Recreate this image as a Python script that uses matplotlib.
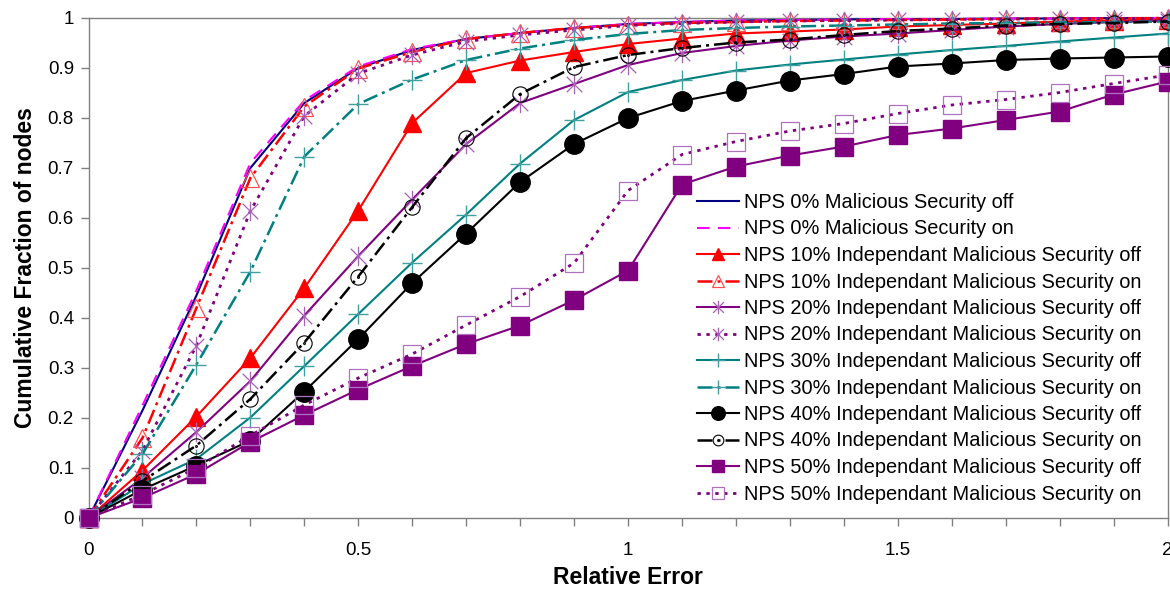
import numpy as np
import matplotlib
matplotlib.use("Agg")
import matplotlib.pyplot as plt
from matplotlib.path import Path
from matplotlib.ticker import FixedLocator, FixedFormatter

plt.rcParams["font.family"] = ["Liberation Sans", "DejaVu Sans"]

x = [0, 0.1, 0.2, 0.3, 0.4, 0.5, 0.6, 0.7, 0.8, 0.9, 1.0,
     1.1, 1.2, 1.3, 1.4, 1.5, 1.6, 1.7, 1.8, 1.9, 2.0]

nps0_off = [0, 0.215, 0.445, 0.70, 0.83, 0.90, 0.936, 0.958, 0.97, 0.98, 0.988,
            0.992, 0.995, 0.996, 0.997, 0.998, 0.998, 0.999, 0.999, 1.0, 1.0]
nps0_on = [0, 0.225, 0.455, 0.71, 0.835, 0.903, 0.938, 0.958, 0.97, 0.98, 0.988,
           0.992, 0.995, 0.996, 0.997, 0.998, 0.998, 0.999, 0.999, 1.0, 1.0]
nps10_off = [0, 0.095, 0.203, 0.32, 0.46, 0.615, 0.79, 0.89, 0.915, 0.932, 0.948,
             0.959, 0.969, 0.973, 0.977, 0.983, 0.986, 0.989, 0.993, 0.995, 0.997]
nps10_on = [0, 0.16, 0.42, 0.68, 0.823, 0.899, 0.932, 0.958, 0.97, 0.98, 0.986,
            0.99, 0.992, 0.994, 0.995, 0.996, 0.997, 0.998, 0.999, 0.999, 1.0]
nps20_off = [0, 0.08, 0.172, 0.274, 0.405, 0.524, 0.637, 0.748, 0.83, 0.868, 0.906,
             0.93, 0.944, 0.955, 0.963, 0.969, 0.976, 0.983, 0.988, 0.992, 0.995]
nps20_on = [0, 0.135, 0.345, 0.614, 0.804, 0.889, 0.926, 0.953, 0.966, 0.976, 0.985,
            0.989, 0.992, 0.994, 0.995, 0.996, 0.997, 0.998, 0.998, 0.999, 0.999]
nps30_off = [0, 0.068, 0.118, 0.201, 0.304, 0.408, 0.511, 0.607, 0.709, 0.796, 0.852,
             0.876, 0.895, 0.907, 0.917, 0.927, 0.936, 0.944, 0.953, 0.961, 0.969]
nps30_on = [0, 0.128, 0.307, 0.493, 0.723, 0.828, 0.877, 0.916, 0.939, 0.956, 0.968,
            0.976, 0.98, 0.983, 0.985, 0.987, 0.989, 0.99, 0.991, 0.992, 0.993]
nps40_off = [0, 0.057, 0.105, 0.155, 0.253, 0.358, 0.47, 0.569, 0.672, 0.748, 0.80,
             0.834, 0.855, 0.875, 0.888, 0.903, 0.909, 0.916, 0.919, 0.921, 0.923]
nps40_on = [0, 0.074, 0.145, 0.238, 0.351, 0.483, 0.622, 0.76, 0.848, 0.902, 0.926,
            0.94, 0.951, 0.957, 0.966, 0.974, 0.979, 0.985, 0.988, 0.99, 0.993]
nps50_off = [0, 0.04, 0.088, 0.152, 0.206, 0.257, 0.304, 0.348, 0.385, 0.436, 0.495,
             0.667, 0.703, 0.725, 0.743, 0.766, 0.779, 0.796, 0.813, 0.847, 0.873]
nps50_on = [0, 0.047, 0.1, 0.165, 0.226, 0.28, 0.328, 0.386, 0.443, 0.51, 0.655,
            0.727, 0.753, 0.774, 0.789, 0.809, 0.826, 0.837, 0.851, 0.869, 0.886]

labels = [
    "NPS 0% Malicious Security off",
    "NPS 0% Malicious Security on",
    "NPS 10% Independant Malicious Security off",
    "NPS 10% Independant Malicious Security on",
    "NPS 20% Independant Malicious Security off",
    "NPS 20% Independant Malicious Security on",
    "NPS 30% Independant Malicious Security off",
    "NPS 30% Independant Malicious Security on",
    "NPS 40% Independant Malicious Security off",
    "NPS 40% Independant Malicious Security on",
    "NPS 50% Independant Malicious Security off",
    "NPS 50% Independant Malicious Security on",
]
x_ticklabels = ["0", "", "", "", "", "0.5", "", "", "", "", "1",
                "", "", "", "", "1.5", "", "", "", "", "2"]
y_ticks = [0, 0.1, 0.2, 0.3, 0.4, 0.5, 0.6, 0.7, 0.8, 0.9, 1.0]
y_ticklabels = ["0", "0.1", "0.2", "0.3", "0.4", "0.5", "0.6", "0.7", "0.8", "0.9", "1"]

# excel-style markers
star = Path([(0, -1), (0, 1), (-0.8, -0.8), (0.8, 0.8), (-0.8, 0.8), (0.8, -0.8)],
            [Path.MOVETO, Path.LINETO] * 3)
dot_circle = Path.make_compound_path(Path.unit_circle(), Path.circle((0, 0), 0.12))

dashdot = (0, (6, 2, 1.2, 2))
dotted = (0, (1.2, 2))

series = [
    (nps0_off, dict(color="#000080", ls="-", lw=1.5)),
    (nps0_on, dict(color="#FF00FF", ls=(0, (6, 4)), lw=1.5)),
    (nps10_off, dict(color="#FF0000", ls="-", lw=1.5, marker="^", ms=13, mfc="#FF0000", mec="#FF0000")),
    (nps10_on, dict(color="#FF0000", ls=dashdot, lw=1.8, marker="^", ms=13, mfc="none", mec="#FF5050", mew=0.9)),
    (nps20_off, dict(color="#800080", ls="-", lw=1.5, marker=star, ms=14, mfc="none", mec="#A860B8", mew=0.9)),
    (nps20_on, dict(color="#800080", ls=dotted, lw=2, marker=star, ms=14, mfc="none", mec="#A860B8", mew=0.9)),
    (nps30_off, dict(color="#008080", ls="-", lw=1.5, marker="+", ms=14, mec="#40A0A0", mew=1.0)),
    (nps30_on, dict(color="#008080", ls=dashdot, lw=1.8, marker="+", ms=14, mec="#40A0A0", mew=1.0)),
    (nps40_off, dict(color="black", ls="-", lw=1.5, marker="o", ms=14, mfc="black", mec="black")),
    (nps40_on, dict(color="black", ls=dashdot, lw=1.8, marker=dot_circle, ms=11, mfc="none", mec="black", mew=0.8)),
    (nps50_off, dict(color="#800080", ls="-", lw=1.5, marker="s", ms=13, mfc="#800080", mec="#800080")),
    (nps50_on, dict(color="#800080", ls=dotted, lw=2, marker="s", ms=13, mfc="none", mec="#B070C0", mew=0.9)),
]

fig = plt.figure(figsize=(11.7, 5.89), dpi=100)
ax = fig.add_axes([88.5 / 1170, 1 - 518 / 589, (1167.7 - 88.5) / 1170, 500 / 589])

for (y, st), lab in zip(series, labels):
    ax.plot(x, y, label=lab, clip_on=False, zorder=3, **st)

ax.set_xlim(0, 2)
ax.set_ylim(0, 1)
ax.xaxis.set_major_locator(FixedLocator(x))
ax.xaxis.set_major_formatter(FixedFormatter(x_ticklabels))
ax.set_yticks(y_ticks)
ax.set_yticklabels(y_ticklabels)
for s in ax.spines.values():
    s.set_color("#808080")
    s.set_linewidth(1)
ax.tick_params(axis="both", colors="#808080", labelcolor="black", length=5.5, width=1,
               labelsize=13.5, direction="out")
ax.tick_params(axis="x", pad=12)
ax.tick_params(axis="y", pad=5)

ax.set_xlabel("Relative Error", fontsize=16.5, fontweight="bold", labelpad=5)
ax.set_ylabel("Cumulative Fraction of nodes", fontsize=16.5, fontweight="bold", labelpad=8)

leg = ax.legend(loc="upper left", bbox_to_anchor=(697 / 1170, 1 - 193 / 589),
                bbox_transform=fig.transFigure, frameon=False, fontsize=14.4,
                handlelength=2.1, handletextpad=0.25, labelspacing=0.375,
                borderpad=0, borderaxespad=0, markerscale=0.7)
leg.set_zorder(5)

fig.savefig("out.png", dpi=100)
